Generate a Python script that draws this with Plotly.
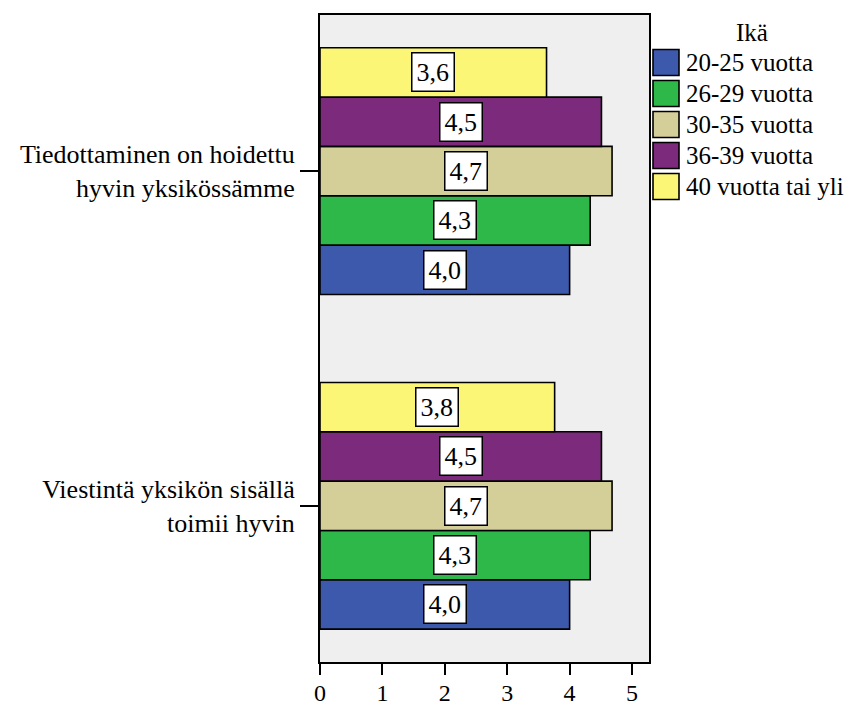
import plotly.graph_objects as go

# Survey statements (category axis) and respondent age groups (series)
questions = [
    "Tiedottaminen on hoidettu<br>hyvin yksikössämme",
    "Viestintä yksikön sisällä<br>toimii hyvin",
]
age_groups = ["20-25 vuotta", "26-29 vuotta", "30-35 vuotta", "36-39 vuotta", "40 vuotta tai yli"]
legend_title = "Ikä"

# Mean scores per age group, in the order of `questions`
mean_20_25 = [4.00, 4.00]
mean_26_29 = [4.33, 4.33]
mean_30_35 = [4.68, 4.68]
mean_36_39 = [4.51, 4.51]
mean_40_plus = [3.63, 3.76]

x_ticks = [0, 1, 2, 3, 4, 5]

series = [mean_20_25, mean_26_29, mean_30_35, mean_36_39, mean_40_plus]
colors = ["#3d59ab", "#2fb84a", "#d4ce99", "#7c2a7b", "#fbf675"]

FONT = "Liberation Serif"
BARGAP = 0.263

# plot-area geometry in pixels (used for the hand-drawn legend)
W, H = 853, 706
L, R, T, B = 320, 204, 15, 44
PW, PH = W - L - R, H - T - B


def px_x(px):
    return (px - L) / PW


def px_y(py):
    return (H - B - py) / PH


def serif(size):
    return dict(family=FONT, size=size, color="black")


fig = go.Figure()
for name, vals, col in zip(age_groups, series, colors):
    fig.add_trace(go.Bar(
        name=name, y=questions, x=vals, orientation="h",
        marker=dict(color=col, line=dict(color="black", width=1.6)),
        showlegend=False,
    ))

# value labels in white boxes, centred on each bar
cat_order = questions[::-1]
n = len(series)
w = 1 - BARGAP
annotations = []
for i, vals in enumerate(series):
    off = -w / 2 + (i + 0.5) * w / n
    for q, v in zip(questions, vals):
        annotations.append(dict(
            x=v / 2, y=cat_order.index(q) + off, xref="x", yref="y",
            text=f"{v:.1f}".replace(".", ","), showarrow=False,
            font=serif(26),
            bgcolor="white", bordercolor="black", borderwidth=1.5, borderpad=4,
        ))

# legend: title, swatches and labels
annotations.append(dict(
    x=px_x(752), y=px_y(33), xref="paper", yref="paper", text=legend_title,
    showarrow=False, xanchor="center", yanchor="middle", font=serif(25),
))
shapes = []
for i, (name, col) in enumerate(zip(age_groups, colors)):
    top = 49.5 + 31 * i
    shapes.append(dict(
        type="rect", xref="paper", yref="paper",
        x0=px_x(653), x1=px_x(679), y0=px_y(top), y1=px_y(top + 26),
        fillcolor=col, line=dict(color="black", width=1.6),
    ))
    annotations.append(dict(
        x=px_x(684), y=px_y(top + 13), xref="paper", yref="paper", text=name,
        showarrow=False, xanchor="left", yanchor="middle", font=serif(25),
    ))

fig.update_layout(
    width=W, height=H,
    margin=dict(l=L, r=R, t=T, b=B, pad=0, autoexpand=False),
    paper_bgcolor="white", plot_bgcolor="#efefef",
    barmode="group", bargap=BARGAP, bargroupgap=0,
    font=serif(25),
    showlegend=False,
    annotations=annotations, shapes=shapes,
    xaxis=dict(
        range=[0, 5.272], tickvals=x_ticks, ticktext=[str(t) for t in x_ticks],
        showgrid=False, zeroline=False, automargin=False,
        showline=True, mirror=True, linecolor="black", linewidth=2,
        ticks="outside", ticklen=11, tickwidth=2, tickcolor="black",
        ticklabelstandoff=-3,
        tickfont=serif(24),
    ),
    yaxis=dict(
        type="category", categoryorder="array", categoryarray=cat_order,
        range=[-0.4666, 1.4663], automargin=False,
        showgrid=False, zeroline=False,
        showline=True, mirror=True, linecolor="black", linewidth=2,
        ticks="outside", ticklen=18, tickwidth=2, tickcolor="black",
        tickfont=serif(26),
    ),
)

fig.write_html("out.html")
